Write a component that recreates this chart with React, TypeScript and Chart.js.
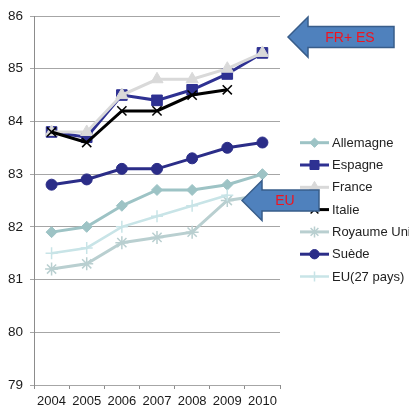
import React, { useEffect, useRef } from "react";
import { Chart, registerables } from "chart.js";
import { drawPoint } from "chart.js/helpers";

Chart.register(...registerables);

const years = ["2004", "2005", "2006", "2007", "2008", "2009", "2010"];
const allemagne = [81.9, 82.0, 82.4, 82.7, 82.7, 82.8, 83.0];
const espagne = [83.8, 83.7, 84.5, 84.4, 84.6, 84.9, 85.3];
const france = [83.8, 83.8, 84.5, 84.8, 84.8, 85.0, 85.3];
const italie = [83.8, 83.6, 84.2, 84.2, 84.5, 84.6, null];
const royaumeUni = [81.2, 81.3, 81.7, 81.8, 81.9, 82.5, 82.6];
const suede = [82.8, 82.9, 83.1, 83.1, 83.3, 83.5, 83.6];
const eu27 = [81.5, 81.6, 82.0, 82.2, 82.4, 82.6, null];

const seriesNames = ["Allemagne", "Espagne", "France", "Italie", "Royaume Uni", "Suède", "EU(27 pays)"];
const arrowLabels = ["FR+ ES", "EU"];
const arrowTargets = [85.6, 82.5];

const FONT = "'Liberation Sans', Arial, sans-serif";

const overlayPlugin = {
  id: "overlay",
  afterDraw(chart: any) {
    const ctx = chart.ctx;
    // legend
    const lx = 300, lw = 29, ly0 = 142.7, step = 22.3;
    chart.data.datasets.forEach((ds: any, i: number) => {
      const y = ly0 + i * step;
      ctx.save();
      ctx.strokeStyle = ds.borderColor;
      ctx.lineWidth = ds.borderWidth;
      ctx.beginPath();
      ctx.moveTo(lx, y);
      ctx.lineTo(lx + lw, y);
      ctx.stroke();
      ctx.fillStyle = ds.pointBackgroundColor;
      ctx.strokeStyle = ds.pointBorderColor;
      ctx.lineWidth = ds.pointBorderWidth;
      drawPoint(ctx, { pointStyle: ds.pointStyle, radius: ds.pointRadius * 0.85, rotation: 0, borderWidth: ds.pointBorderWidth }, lx + lw / 2, y);
      ctx.fillStyle = "#222";
      ctx.font = "13px " + FONT;
      ctx.textBaseline = "middle";
      ctx.textAlign = "left";
      ctx.fillText(ds.label, lx + lw + 3, y + 0.5);
      ctx.restore();
    });
    // arrows
    const yScale = chart.scales.y;
    const drawArrow = (tipX: number, tipY: number, headLen: number, headHalf: number, bodyHalf: number, bodyEnd: number, text: string, textX: number) => {
      ctx.save();
      ctx.beginPath();
      ctx.moveTo(tipX, tipY);
      ctx.lineTo(tipX + headLen, tipY - headHalf);
      ctx.lineTo(tipX + headLen, tipY - bodyHalf);
      ctx.lineTo(bodyEnd, tipY - bodyHalf);
      ctx.lineTo(bodyEnd, tipY + bodyHalf);
      ctx.lineTo(tipX + headLen, tipY + bodyHalf);
      ctx.lineTo(tipX + headLen, tipY + headHalf);
      ctx.closePath();
      ctx.fillStyle = "#4F81BD";
      ctx.fill();
      ctx.strokeStyle = "#385D8A";
      ctx.lineWidth = 1.5;
      ctx.stroke();
      ctx.fillStyle = "#F0141E";
      ctx.font = "14px " + FONT;
      ctx.textAlign = "center";
      ctx.textBaseline = "middle";
      ctx.fillText(text, textX, tipY + 1);
      ctx.restore();
    };
    const ca = chart.chartArea;
    drawArrow(ca.right + 8, yScale.getPixelForValue(arrowTargets[0]), 20, 20, 10.5, ca.right + 114, arrowLabels[0], ca.right + 70);
    drawArrow(ca.left + 208, yScale.getPixelForValue(arrowTargets[1]), 20, 20, 10.5, ca.right + 39, arrowLabels[1], ca.right + 5);
  },
};

export default function App() {
  const ref = useRef<HTMLCanvasElement>(null);
  useEffect(() => {
    if (!ref.current) return;
    const mk = (label: string, data: any[], color: string, style: string, radius: number, width: number, order: number, pbw = 1) => ({
      label,
      data,
      borderColor: color,
      backgroundColor: color,
      pointBackgroundColor: color,
      pointBorderColor: color,
      pointStyle: style,
      pointRadius: radius,
      pointBorderWidth: pbw,
      borderWidth: width,
      tension: 0,
      spanGaps: false,
      order,
    });
    const chart = new Chart(ref.current, {
      type: "line",
      data: {
        labels: years,
        datasets: [
          mk(seriesNames[0], allemagne, "#9DC3C5", "rectRot", 5.5, 3, 7),
          mk(seriesNames[1], espagne, "#2E3192", "rect", 7.5, 3, 6),
          mk(seriesNames[2], france, "#D9D9D9", "triangle", 7, 3, 5),
          mk(seriesNames[3], italie, "#000000", "crossRot", 6.5, 3, 4, 1.5),
          mk(seriesNames[4], royaumeUni, "#B9CFD0", "star", 6.5, 3, 3, 1.5),
          mk(seriesNames[5], suede, "#2B2D88", "circle", 5.5, 3, 2),
          mk(seriesNames[6], eu27, "#C8E4E7", "cross", 6, 2.5, 1, 1.5),
        ],
      },
      options: {
        responsive: false,
        animation: false,
        layout: { padding: { top: 16, right: 129, left: 0, bottom: 0 } },
        plugins: { legend: { display: false }, tooltip: { enabled: false } },
        scales: {
          x: {
            type: "category",
            offset: true,
            afterFit: (s: any) => { s.height = 24; },
            grid: { offset: true, drawOnChartArea: false, drawTicks: true, tickLength: 4, color: "#8C8C8C" },
            border: { display: false },
            ticks: { padding: 5, color: "#1A1A1A", font: { size: 13, family: FONT }, maxRotation: 0, autoSkip: false },
          },
          y: {
            min: 79,
            max: 86,
            afterFit: (s: any) => { s.width = 34; },
            grid: { color: "#A6A6A6", tickLength: 4, lineWidth: 1 },
            border: { display: true, color: "#8C8C8C" },
            ticks: { stepSize: 1, padding: 7, color: "#1A1A1A", font: { size: 13.5, family: FONT } },
          },
        },
      },
      plugins: [overlayPlugin],
    } as any);
    return () => chart.destroy();
  }, []);
  return (
    <div style={{ position: "fixed", left: 0, top: 0, width: 409, height: 409, background: "#fff" }}>
      <canvas ref={ref} width={409} height={409} />
    </div>
  );
}
